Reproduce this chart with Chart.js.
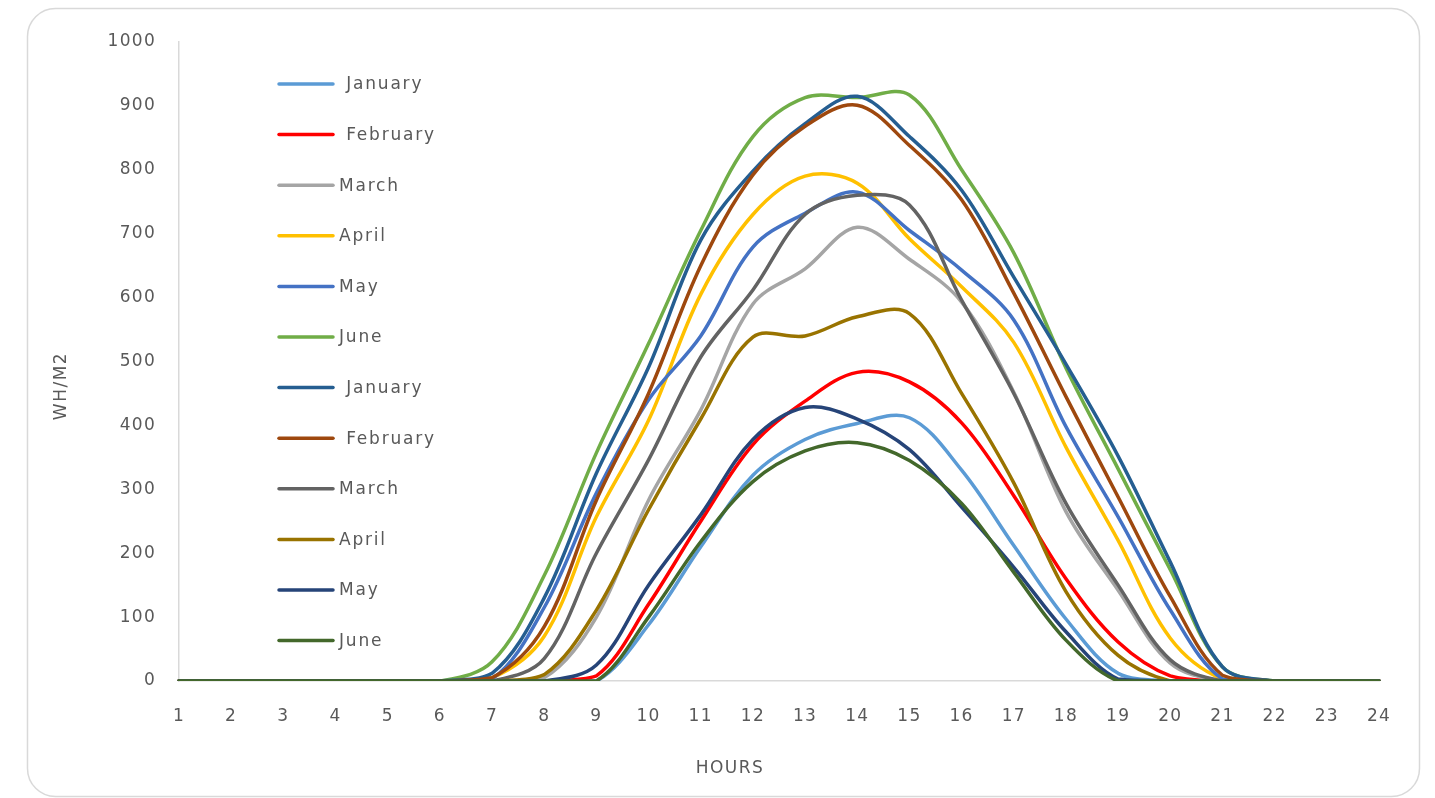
<!DOCTYPE html>
<html>
<head>
<meta charset="utf-8">
<title>Hourly solar radiation</title>
<script src="https://cdn.jsdelivr.net/npm/chart.js@4.4.0/dist/chart.umd.min.js"></script>
<style>
  html, body { margin: 0; padding: 0; background: #ffffff; }
  #wrap { position: relative; width: 1435px; height: 798px; }
</style>
</head>
<body>
<div id="wrap"><canvas id="chart" width="1435" height="798"></canvas></div>
<script>
// Hour of day (x categories)
const hours = ['1','2','3','4','5','6','7','8','9','10','11','12','13','14','15','16','17','18','19','20','21','22','23','24'];

// Series names as shown in the legend
const seriesNames = [' January', ' February', 'March', 'April', 'May', 'June',
                     ' January', ' February', 'March', 'April', 'May', 'June'];

// Line colours, one per series
const seriesColors = ['#5B9BD5', '#FF0000', '#A5A5A5', '#FFC000', '#4472C4', '#70AD47',
                      '#255E91', '#9E480E', '#636363', '#997300', '#264478', '#43682B'];

// Irradiation per hour (WH/M2)
const january1  = [0,0,0,0,0,0,0,0,0,88,210,322,378,403,412,330,212,97,12,0,0,0,0,0];
const february1 = [0,0,0,0,0,0,0,0,8,120,250,370,438,483,468,404,290,160,61,8,0,0,0,0];
const march1    = [0,0,0,0,0,0,0,5,100,283,424,590,645,710,660,593,452,265,142,28,0,0,0,0];
const april1    = [0,0,0,0,0,0,5,70,257,408,605,730,790,779,692,617,530,366,220,67,3,0,0,0];
const may1      = [0,0,0,0,0,0,3,115,294,440,540,679,732,765,705,643,565,398,257,111,3,0,0,0];
const june1     = [0,0,0,0,0,0,30,165,357,528,705,852,913,913,917,800,670,490,332,174,22,0,0,0];
const january2  = [0,0,0,0,0,0,12,130,325,491,690,798,872,915,852,768,632,496,352,186,22,0,0,0];
const february2 = [0,0,0,0,0,0,5,85,283,450,650,792,868,901,838,753,607,445,288,132,9,0,0,0];
const march2    = [0,0,0,0,0,0,0,35,200,346,507,612,730,760,745,596,450,278,150,33,0,0,0,0];
const april2    = [0,0,0,0,0,0,0,10,111,268,410,538,540,570,575,450,310,140,40,0,0,0,0,0];
const may2      = [0,0,0,0,0,0,0,0,25,150,260,378,428,410,362,272,178,77,3,0,0,0,0,0];
const june2     = [0,0,0,0,0,0,0,0,0,100,218,312,360,373,345,278,170,64,0,0,0,0,0,0];

const seriesValues = [january1, february1, march1, april1, may1, june1,
                      january2, february2, march2, april2, may2, june2];

// Y axis range and step
const yMin = 0, yMax = 1000, yStep = 100;

const xTitle = 'HOURS';
const yTitle = 'WH/M2';

const textColor = '#595959';
const axisColor = '#D9D9D9';
const fontFamily = '"DejaVu Sans", sans-serif';

const datasets = seriesValues.map((vals, i) => ({
  label: seriesNames[i],
  data: vals,
  borderColor: seriesColors[i],
  backgroundColor: seriesColors[i],
  borderWidth: 3.5,
  borderCapStyle: 'round',
  borderJoinStyle: 'round',
  pointRadius: 0,
  pointHoverRadius: 0,
  tension: 0.35,
  fill: false,
  order: seriesValues.length - i   // later series are painted on top
}));

// White card with a rounded light-grey outline behind everything
const cardPlugin = {
  id: 'card',
  beforeDraw(chart) {
    const ctx = chart.ctx;
    ctx.save();
    ctx.fillStyle = '#ffffff';
    ctx.fillRect(0, 0, chart.width, chart.height);
    ctx.strokeStyle = axisColor;
    ctx.lineWidth = 1.5;
    ctx.beginPath();
    ctx.roundRect(27.5, 8.5, 1392, 788, 28);
    ctx.stroke();
    ctx.restore();
    ctx.letterSpacing = '1.3px';
  }
};

// Legend drawn as a column inside the plot area
const columnLegend = {
  id: 'columnLegend',
  afterDraw(chart) {
    const ctx = chart.ctx;
    ctx.save();
    ctx.font = '17px ' + fontFamily;
    ctx.letterSpacing = '1.8px';
    ctx.textBaseline = 'middle';
    ctx.textAlign = 'left';
    chart.data.datasets.forEach((ds, i) => {
      const y = 84 + i * 50.6;
      ctx.strokeStyle = ds.borderColor;
      ctx.lineWidth = 3.5;
      ctx.lineCap = 'round';
      ctx.beginPath();
      ctx.moveTo(279, y);
      ctx.lineTo(333, y);
      ctx.stroke();
      ctx.fillStyle = textColor;
      ctx.fillText(ds.label, 339, y + 1);
    });
    ctx.restore();
  }
};

// Axis titles
const axisTitles = {
  id: 'axisTitles',
  afterDraw(chart) {
    const ctx = chart.ctx;
    ctx.save();
    ctx.font = '17px ' + fontFamily;
    ctx.letterSpacing = '1.5px';
    ctx.fillStyle = textColor;
    ctx.textAlign = 'center';
    ctx.textBaseline = 'middle';
    ctx.fillText(xTitle, 730, 769);
    ctx.translate(62, 386);
    ctx.rotate(-Math.PI / 2);
    ctx.fillText(yTitle, 0, 0);
    ctx.restore();
  }
};

new Chart(document.getElementById('chart'), {
  type: 'line',
  data: { labels: hours, datasets },
  options: {
    responsive: false,
    animation: false,
    devicePixelRatio: 1,
    events: [],
    layout: { padding: { left: 0, right: 56, top: 42, bottom: 0 } },
    plugins: {
      legend: { display: false },
      title: { display: false },
      tooltip: { enabled: false }
    },
    scales: {
      x: {
        type: 'category',
        offset: false,
        grid: { display: false, drawTicks: false },
        border: { display: true, color: axisColor, width: 1.5 },
        ticks: {
          color: textColor,
          font: { family: fontFamily, size: 17 },
          padding: 25,
          maxRotation: 0,
          autoSkip: false
        },
        afterFit(scale) { scale.height = 117; }
      },
      y: {
        min: yMin,
        max: yMax,
        grid: { display: false, drawTicks: false },
        border: { display: true, color: axisColor, width: 1.5 },
        ticks: {
          stepSize: yStep,
          color: textColor,
          font: { family: fontFamily, size: 17 },
          padding: 23,
          callback: (value) => String(value)
        },
        afterFit(scale) { scale.width = 179; }
      }
    }
  },
  plugins: [cardPlugin, columnLegend, axisTitles]
});
</script>
</body>
</html>
